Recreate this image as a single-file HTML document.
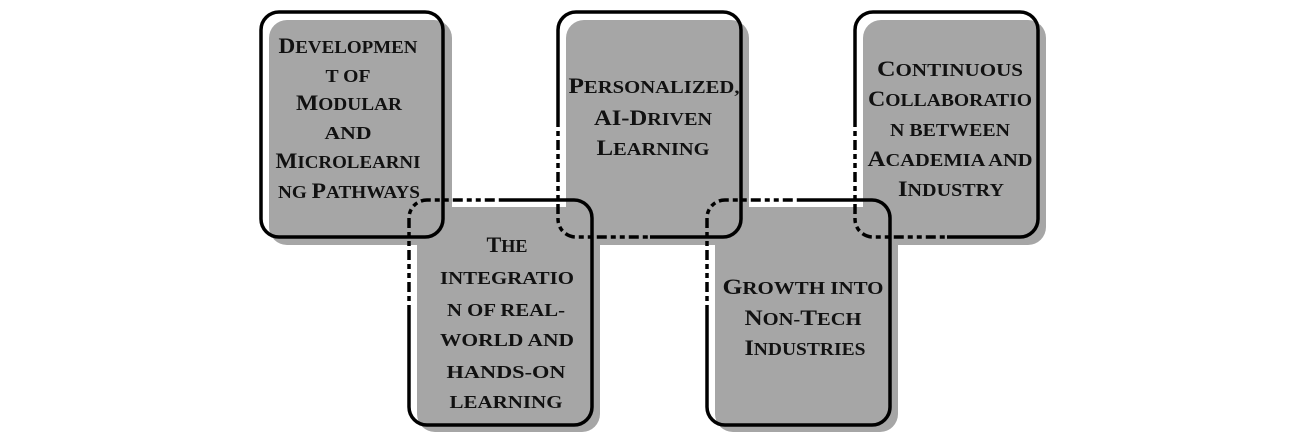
<!DOCTYPE html>
<html><head><meta charset="utf-8"><style>
html,body{margin:0;padding:0;background:#fff;width:1296px;height:443px;overflow:hidden}
text{font-family:"Liberation Serif",serif;font-weight:bold;font-size:18px;fill:#111}
tspan.c{font-size:22px}
</style></head><body>
<svg width="1296" height="443" viewBox="0 0 1296 443" xmlns="http://www.w3.org/2000/svg">
<g fill="#a6a6a6">
<rect x="269" y="20" width="183" height="225" rx="18"/>
<rect x="566" y="20" width="183" height="225" rx="18"/>
<rect x="863" y="20" width="183" height="225" rx="18"/>
<rect x="417" y="207" width="183" height="225" rx="18"/>
<rect x="715" y="207" width="183" height="225" rx="18"/>
</g>
<g fill="none" stroke="#000" stroke-width="3.5">
<rect x="261" y="12" width="182" height="225" rx="18"/>
<path d="M502 200 H574 A18 18 0 0 1 592 218 V407 A18 18 0 0 1 574 425 H427 A18 18 0 0 1 409 407 V310"/>
<path d="M409 310 V218 A18 18 0 0 1 427 200 H502" stroke-dasharray="5 4 5 4 10 4"/>
<path d="M650 237 H723 A18 18 0 0 0 741 219 V30 A18 18 0 0 0 723 12 H576 A18 18 0 0 0 558 30 V122"/>
<path d="M558 122 V219 A18 18 0 0 0 576 237 H650" stroke-dasharray="5 4 5 4 10 4"/>
<path d="M799 200 H872 A18 18 0 0 1 890 218 V407 A18 18 0 0 1 872 425 H725 A18 18 0 0 1 707 407 V310"/>
<path d="M707 310 V218 A18 18 0 0 1 725 200 H799" stroke-dasharray="5 4 5 4 10 4"/>
<path d="M947 237 H1020 A18 18 0 0 0 1038 219 V30 A18 18 0 0 0 1020 12 H873 A18 18 0 0 0 855 30 V122"/>
<path d="M855 122 V219 A18 18 0 0 0 873 237 H947" stroke-dasharray="5 4 5 4 10 4"/>
</g>
<g text-anchor="middle">
<text x="348" y="53" textLength="139" lengthAdjust="spacingAndGlyphs"><tspan class="c">D</tspan>EVELOPMEN</text>
<text x="348" y="82" textLength="45" lengthAdjust="spacingAndGlyphs">T OF</text>
<text x="349" y="110" textLength="106" lengthAdjust="spacingAndGlyphs"><tspan class="c">M</tspan>ODULAR</text>
<text x="348" y="139" textLength="47" lengthAdjust="spacingAndGlyphs">AND</text>
<text x="348" y="168" textLength="145" lengthAdjust="spacingAndGlyphs"><tspan class="c">M</tspan>ICROLEARNI</text>
<text x="349" y="198" textLength="142" lengthAdjust="spacingAndGlyphs">NG <tspan class="c">P</tspan>ATHWAYS</text>

<text x="507" y="252" textLength="41" lengthAdjust="spacingAndGlyphs"><tspan class="c">T</tspan>HE</text>
<text x="507" y="284" textLength="134" lengthAdjust="spacingAndGlyphs">INTEGRATIO</text>
<text x="506" y="316" textLength="118" lengthAdjust="spacingAndGlyphs">N OF REAL-</text>
<text x="507" y="346" textLength="134" lengthAdjust="spacingAndGlyphs">WORLD AND</text>
<text x="506" y="378" textLength="119" lengthAdjust="spacingAndGlyphs">HANDS-ON</text>
<text x="506" y="408" textLength="113" lengthAdjust="spacingAndGlyphs">LEARNING</text>

<text x="654" y="93" textLength="171" lengthAdjust="spacingAndGlyphs"><tspan class="c">P</tspan>ERSONALIZED,</text>
<text x="653" y="125" textLength="118" lengthAdjust="spacingAndGlyphs"><tspan class="c">AI-D</tspan>RIVEN</text>
<text x="653" y="155" textLength="113" lengthAdjust="spacingAndGlyphs"><tspan class="c">L</tspan>EARNING</text>

<text x="803" y="294" textLength="161" lengthAdjust="spacingAndGlyphs"><tspan class="c">G</tspan>ROWTH INTO</text>
<text x="803" y="325" textLength="117" lengthAdjust="spacingAndGlyphs"><tspan class="c">N</tspan>ON-<tspan class="c">T</tspan>ECH</text>
<text x="805" y="355" textLength="121" lengthAdjust="spacingAndGlyphs"><tspan class="c">I</tspan>NDUSTRIES</text>

<text x="950" y="76" textLength="146" lengthAdjust="spacingAndGlyphs"><tspan class="c">C</tspan>ONTINUOUS</text>
<text x="950" y="106" textLength="164" lengthAdjust="spacingAndGlyphs"><tspan class="c">C</tspan>OLLABORATIO</text>
<text x="950" y="136" textLength="120" lengthAdjust="spacingAndGlyphs">N BETWEEN</text>
<text x="950" y="166" textLength="165" lengthAdjust="spacingAndGlyphs"><tspan class="c">A</tspan>CADEMIA AND</text>
<text x="951" y="196" textLength="106" lengthAdjust="spacingAndGlyphs"><tspan class="c">I</tspan>NDUSTRY</text>
</g>
</svg>
</body></html>
